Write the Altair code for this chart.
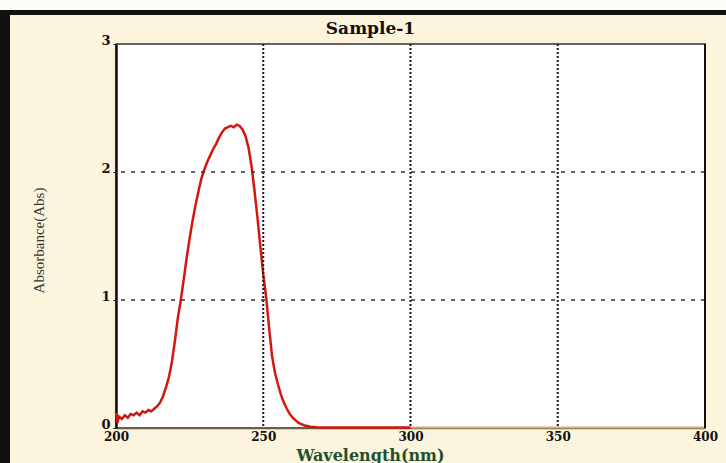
import altair as alt
import pandas as pd

# UV absorbance spectrum of Sample-1
wavelength = [200, 200.5, 201, 202, 203, 204, 205, 206, 207, 208, 209, 210,
              211, 212, 213, 214, 215, 216, 217, 218, 219, 220, 221, 222,
              223, 224, 225, 226, 227, 228, 229, 230, 231, 232, 233, 234,
              235, 236, 237, 238, 239, 240, 241, 242, 243, 244, 245, 246,
              247, 248, 249, 250, 251, 252, 253, 254, 255, 256, 257, 258,
              259, 260, 261, 262, 263, 264, 265, 266, 268, 270, 275, 280,
              290, 300, 320, 350, 380, 400]
absorbance = [0.12, 0.04, 0.09, 0.07, 0.10, 0.08, 0.11, 0.10, 0.12, 0.10, 0.13, 0.12,
              0.14, 0.13, 0.15, 0.17, 0.20, 0.25, 0.32, 0.40, 0.52, 0.68, 0.86, 1.00,
              1.16, 1.33, 1.48, 1.62, 1.74, 1.85, 1.95, 2.02, 2.08, 2.13, 2.18, 2.22,
              2.27, 2.31, 2.34, 2.35, 2.36, 2.35, 2.37, 2.36, 2.33, 2.28, 2.19, 2.05,
              1.86, 1.65, 1.42, 1.20, 1.02, 0.78, 0.56, 0.43, 0.34, 0.26, 0.20, 0.15,
              0.11, 0.08, 0.06, 0.04, 0.03, 0.02, 0.015, 0.01, 0.006, 0.004, 0.003, 0.003,
              0.003, 0.004, 0.004, 0.003, 0.003, 0.004]

x_ticks = [200, 250, 300, 350, 400]
y_ticks = [0, 1, 2, 3]
x_grid = [250, 300, 350]
y_grid = [1, 2]

W, H = 589, 384
SERIF = "DejaVu Serif"

df = pd.DataFrame({"wavelength": wavelength, "absorbance": absorbance})
main = df[df["wavelength"] <= 300]
tail = df[df["wavelength"] >= 300]

x_scale = alt.Scale(domain=[200, 400], nice=False, zero=False)
y_scale = alt.Scale(domain=[0, 3], nice=False)

x_axis = alt.Axis(
    values=x_ticks, grid=False, ticks=False, format="d",
    labelFont=SERIF, labelFontWeight="bold", labelFontSize=12, labelColor="#111",
    labelPadding=3, labelFlush=False,
    domainColor="#6b5a44", domainWidth=1.5,
    title="Wavelength(nm)", titleFont=SERIF, titleFontWeight="bold", titleFontSize=16,
    titleColor="#23502c", titleX=254, titleY=27, titleBaseline="middle",
)
y_axis = alt.Axis(
    values=y_ticks, grid=False, tickSize=3, tickColor="#111", format="d",
    labelFont=SERIF, labelFontWeight="bold", labelFontSize=13, labelColor="#111",
    labelPadding=3, labelFlush=False, labelBaseline="middle", labelOffset=-4,
    domainColor="#111", domainWidth=2.5,
    title="Absorbance(Abs)", titleFont="Liberation Serif", titleFontWeight="normal",
    titleFontSize=15, titleColor="#333", titleAngle=270,
    titleX=-78, titleY=196, titleAlign="center", titleBaseline="middle",
)

X = alt.X("wavelength:Q", scale=x_scale, axis=x_axis)
Y = alt.Y("absorbance:Q", scale=y_scale, axis=y_axis)

blank = alt.Data(values=[{}])

# frame decorations around the page
top_strip = alt.Chart(blank).mark_rect(color="#fdfcf6").encode(
    x=alt.value(-116), x2=alt.value(W + 21), y=alt.value(-44), y2=alt.value(-34))
top_band = alt.Chart(blank).mark_rect(color="#111").encode(
    x=alt.value(-116), x2=alt.value(W + 21), y=alt.value(-34), y2=alt.value(-29))
left_band = alt.Chart(blank).mark_rect(color="#111").encode(
    x=alt.value(-116), x2=alt.value(-106), y=alt.value(-34), y2=alt.value(H + 35))

# gridlines
vgrid = alt.Chart(pd.DataFrame({"wavelength": x_grid})).mark_rule(
    color="#1a1a1a", strokeWidth=2, strokeDash=[2, 2]
).encode(x=X)
hgrid = alt.Chart(pd.DataFrame({"absorbance": y_grid})).mark_rule(
    color="#333", strokeWidth=1.5, strokeDash=[4, 6]
).encode(y=Y)

# right border
right_border = alt.Chart(blank).mark_rule(color="#111", strokeWidth=2).encode(
    x=alt.value(W), y=alt.value(0), y2=alt.value(H))

line_main = alt.Chart(main).mark_line(color="#d3170f", strokeWidth=2.5).encode(x=X, y=Y)
line_tail = alt.Chart(tail).mark_line(color="#eaa27e", strokeWidth=2).encode(x=X, y=Y)

chart = alt.layer(
    line_main, line_tail, vgrid, hgrid, right_border, top_strip, top_band, left_band
).properties(
    width=W, height=H,
    title=alt.TitleParams("Sample-1", font=SERIF, fontSize=17, fontWeight="bold",
                          color="#111", dx=-40, dy=47, offset=9, frame="group"),
    autosize=alt.AutoSizeParams(type="none"),
    padding={"left": 116, "top": 44, "right": 21, "bottom": 35},
    background="#fcf4dd",
).configure_view(
    fill="white", stroke="#333", strokeWidth=1.5
)

chart.save("out.html", embed_options={"renderer": "svg", "actions": False})
